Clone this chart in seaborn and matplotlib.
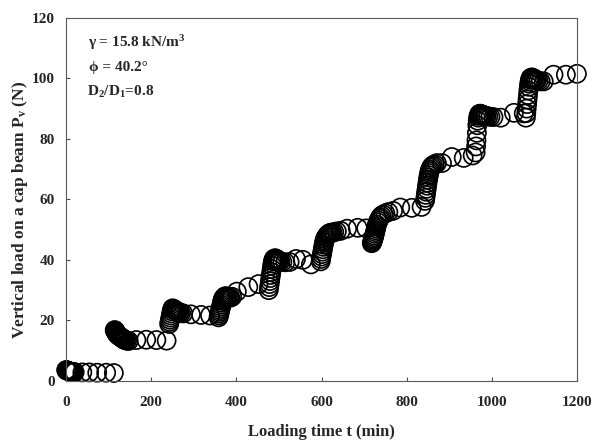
import numpy as np
import pandas as pd
import matplotlib
matplotlib.use("Agg")
import matplotlib.pyplot as plt
import seaborn as sns

# loading stages: time (min) and vertical load on the cap beam (N)
t_stage0 = [0, 1, 2, 3, 4, 5, 6, 7, 8, 9, 10, 12, 14, 16, 18, 20, 38, 54, 73, 94, 112]
p_stage0 = [3.6, 3.5, 3.4, 3.4, 3.3, 3.3, 3.2, 3.2, 3.1, 3.1, 3.0, 3.0, 3.0, 2.9, 2.9,
            2.9, 2.8, 2.8, 2.7, 2.7, 2.6]

t_stage1 = [114, 115, 116, 117, 118, 119, 120, 122, 124, 126, 128, 130, 132, 134, 136,
            138, 140, 143, 147, 165, 188, 212, 236]
p_stage1 = [16.8, 16.6, 16.4, 16.1, 15.9, 15.6, 15.4, 15.1, 14.9, 14.7, 14.5, 14.3, 14.1,
            13.9, 13.7, 13.5, 13.4, 13.3, 13.2, 13.5, 13.6, 13.5, 13.3]

t_stage2 = [242, 243, 244, 245, 246, 247, 248, 249, 250, 252, 254, 256, 258, 260, 262,
            264, 267, 270, 275, 293, 317, 338]
p_stage2 = [18.8, 19.5, 20.2, 20.9, 21.6, 22.3, 23.0, 23.6, 24.0, 23.8, 23.6, 23.4, 23.2,
            23.0, 22.9, 22.7, 22.6, 22.4, 22.3, 22.0, 21.8, 21.6]

t_stage3 = [358, 359, 360, 361, 362, 363, 364, 365, 366, 367, 368, 370, 372, 374, 376,
            378, 380, 383, 386, 390, 401, 428, 452]
p_stage3 = [21.0, 21.6, 22.2, 22.8, 23.4, 24.0, 24.6, 25.2, 25.8, 26.4, 27.0, 27.4, 27.8,
            28.0, 27.9, 27.8, 27.7, 27.6, 27.5, 27.8, 29.5, 31.0, 32.0]

t_stage4 = [476, 477, 478, 479, 480, 481, 482, 483, 484, 485, 486, 487, 488, 490, 492,
            494, 496, 498, 500, 503, 508, 515, 525, 540, 556, 575]
p_stage4 = [30.0, 31.0, 32.0, 33.0, 34.0, 35.0, 36.0, 37.0, 38.0, 38.8, 39.5, 40.0, 40.3,
            40.5, 40.5, 40.3, 40.1, 39.9, 39.7, 39.5, 39.3, 39.2, 39.3, 40.3, 40.0, 38.5]

t_stage5 = [598, 599, 600, 601, 602, 603, 604, 605, 606, 607, 608, 610, 612, 614, 616,
            618, 620, 623, 626, 630, 636, 645, 660, 685, 705]
p_stage5 = [39.5, 40.3, 41.1, 41.9, 42.7, 43.5, 44.3, 45.0, 45.7, 46.3, 46.9, 47.4, 47.8,
            48.2, 48.5, 48.7, 48.9, 49.0, 49.0, 49.2, 49.4, 49.6, 50.3, 50.6, 50.4]

t_stage6 = [718, 719, 720, 721, 722, 723, 724, 725, 726, 727, 728, 729, 730, 732, 734,
            736, 738, 741, 745, 750, 757, 768, 785, 812, 835]
p_stage6 = [45.5, 45.8, 46.2, 46.6, 47.0, 47.5, 48.0, 48.6, 49.2, 49.8, 50.4, 51.0, 51.6,
            52.4, 53.0, 53.6, 54.1, 54.6, 55.0, 55.4, 55.8, 56.2, 57.3, 57.2, 57.5]

t_stage7 = [843, 844, 845, 846, 847, 848, 849, 850, 851, 852, 853, 854, 855, 857, 859,
            862, 866, 871, 883, 906, 934, 955]
p_stage7 = [59.5, 60.5, 61.5, 62.5, 63.5, 64.5, 65.5, 66.5, 67.3, 68.0, 68.7, 69.3, 69.8,
            70.4, 70.9, 71.3, 71.6, 72.0, 72.0, 74.0, 73.7, 74.5]

t_stage8 = [962, 963, 964, 965, 966, 967, 968, 969, 970, 971, 972, 973, 974, 976, 978,
            980, 982, 985, 988, 992, 997, 1004, 1021, 1052, 1075]
p_stage8 = [75.5, 77.5, 79.5, 82.0, 84.5, 86.0, 87.0, 87.6, 88.0, 88.2, 88.3, 88.3, 88.2,
            88.1, 88.0, 87.9, 87.8, 87.6, 87.5, 87.4, 87.3, 87.2, 87.0, 88.6, 88.4]

t_stage9 = [1080, 1081, 1082, 1083, 1084, 1085, 1086, 1087, 1088, 1089, 1090, 1091, 1092,
            1094, 1096, 1098, 1100, 1103, 1106, 1110, 1115, 1122, 1145, 1174, 1200]
p_stage9 = [87.0, 88.5, 90.0, 91.5, 93.0, 94.5, 96.0, 97.2, 98.2, 99.0, 99.6, 100.0, 100.2,
            100.3, 100.2, 100.0, 99.8, 99.6, 99.4, 99.2, 99.0, 99.0, 101.2, 101.2, 101.5]

x_ticks = [0, 200, 400, 600, 800, 1000, 1200]
y_ticks = [0, 20, 40, 60, 80, 100, 120]

times = (t_stage0 + t_stage1 + t_stage2 + t_stage3 + t_stage4 +
         t_stage5 + t_stage6 + t_stage7 + t_stage8 + t_stage9)
loads = (p_stage0 + p_stage1 + p_stage2 + p_stage3 + p_stage4 +
         p_stage5 + p_stage6 + p_stage7 + p_stage8 + p_stage9)
df = pd.DataFrame({"time": times, "load": loads})

sns.set_style("ticks")
plt.rcParams["font.family"] = ["Liberation Serif", "DejaVu Serif"]
plt.rcParams["font.weight"] = "bold"
plt.rcParams["mathtext.fontset"] = "custom"
plt.rcParams["mathtext.rm"] = "Liberation Serif:bold"
plt.rcParams["mathtext.it"] = "Liberation Serif:bold"
plt.rcParams["mathtext.bf"] = "Liberation Serif:bold"

fig = plt.figure(figsize=(5.96, 4.46), dpi=100)
ax = fig.add_axes([0.111, 0.146, 0.857, 0.814])

sns.scatterplot(
    data=df, x="time", y="load", ax=ax,
    marker="o", s=170, facecolor="none", edgecolor="black",
    linewidth=1.2, clip_on=False, legend=False
)

ax.set_xlim(0, 1200)
ax.set_ylim(0, 120)
ax.set_xticks(x_ticks)
ax.set_yticks(y_ticks)
ax.tick_params(direction="in", length=3, width=0.8, labelsize=11, color="0.3")
ax.tick_params(axis="x", pad=11)
ax.tick_params(axis="y", pad=8)
for lab in ax.get_xticklabels() + ax.get_yticklabels():
    lab.set_fontweight("bold")
for side in ["left", "right", "top", "bottom"]:
    ax.spines[side].set_visible(True)
    ax.spines[side].set_color("0.35")
    ax.spines[side].set_linewidth(0.8)

ax.set_xlabel("Loading time t (min)", fontsize=12, fontweight="bold")
ax.xaxis.set_label_coords(0.5, -0.12)
ax.set_ylabel("Vertical load on a cap beam P$_v$ (N)", fontsize=12.5, fontweight="bold")
ax.yaxis.set_label_coords(-0.07, 0.47)

ax.text(0.043, 0.931, "γ = 15.8 kN/m$^3$", transform=ax.transAxes,
        fontsize=11, fontweight="bold", va="center")
ax.text(0.045, 0.862, "ϕ = 40.2°", transform=ax.transAxes,
        fontsize=11, fontweight="bold", va="center")
ax.text(0.041, 0.796, "D$_2$/D$_1$=0.8", transform=ax.transAxes,
        fontsize=11, fontweight="bold", va="center")

fig.savefig("out.png", dpi=100)
